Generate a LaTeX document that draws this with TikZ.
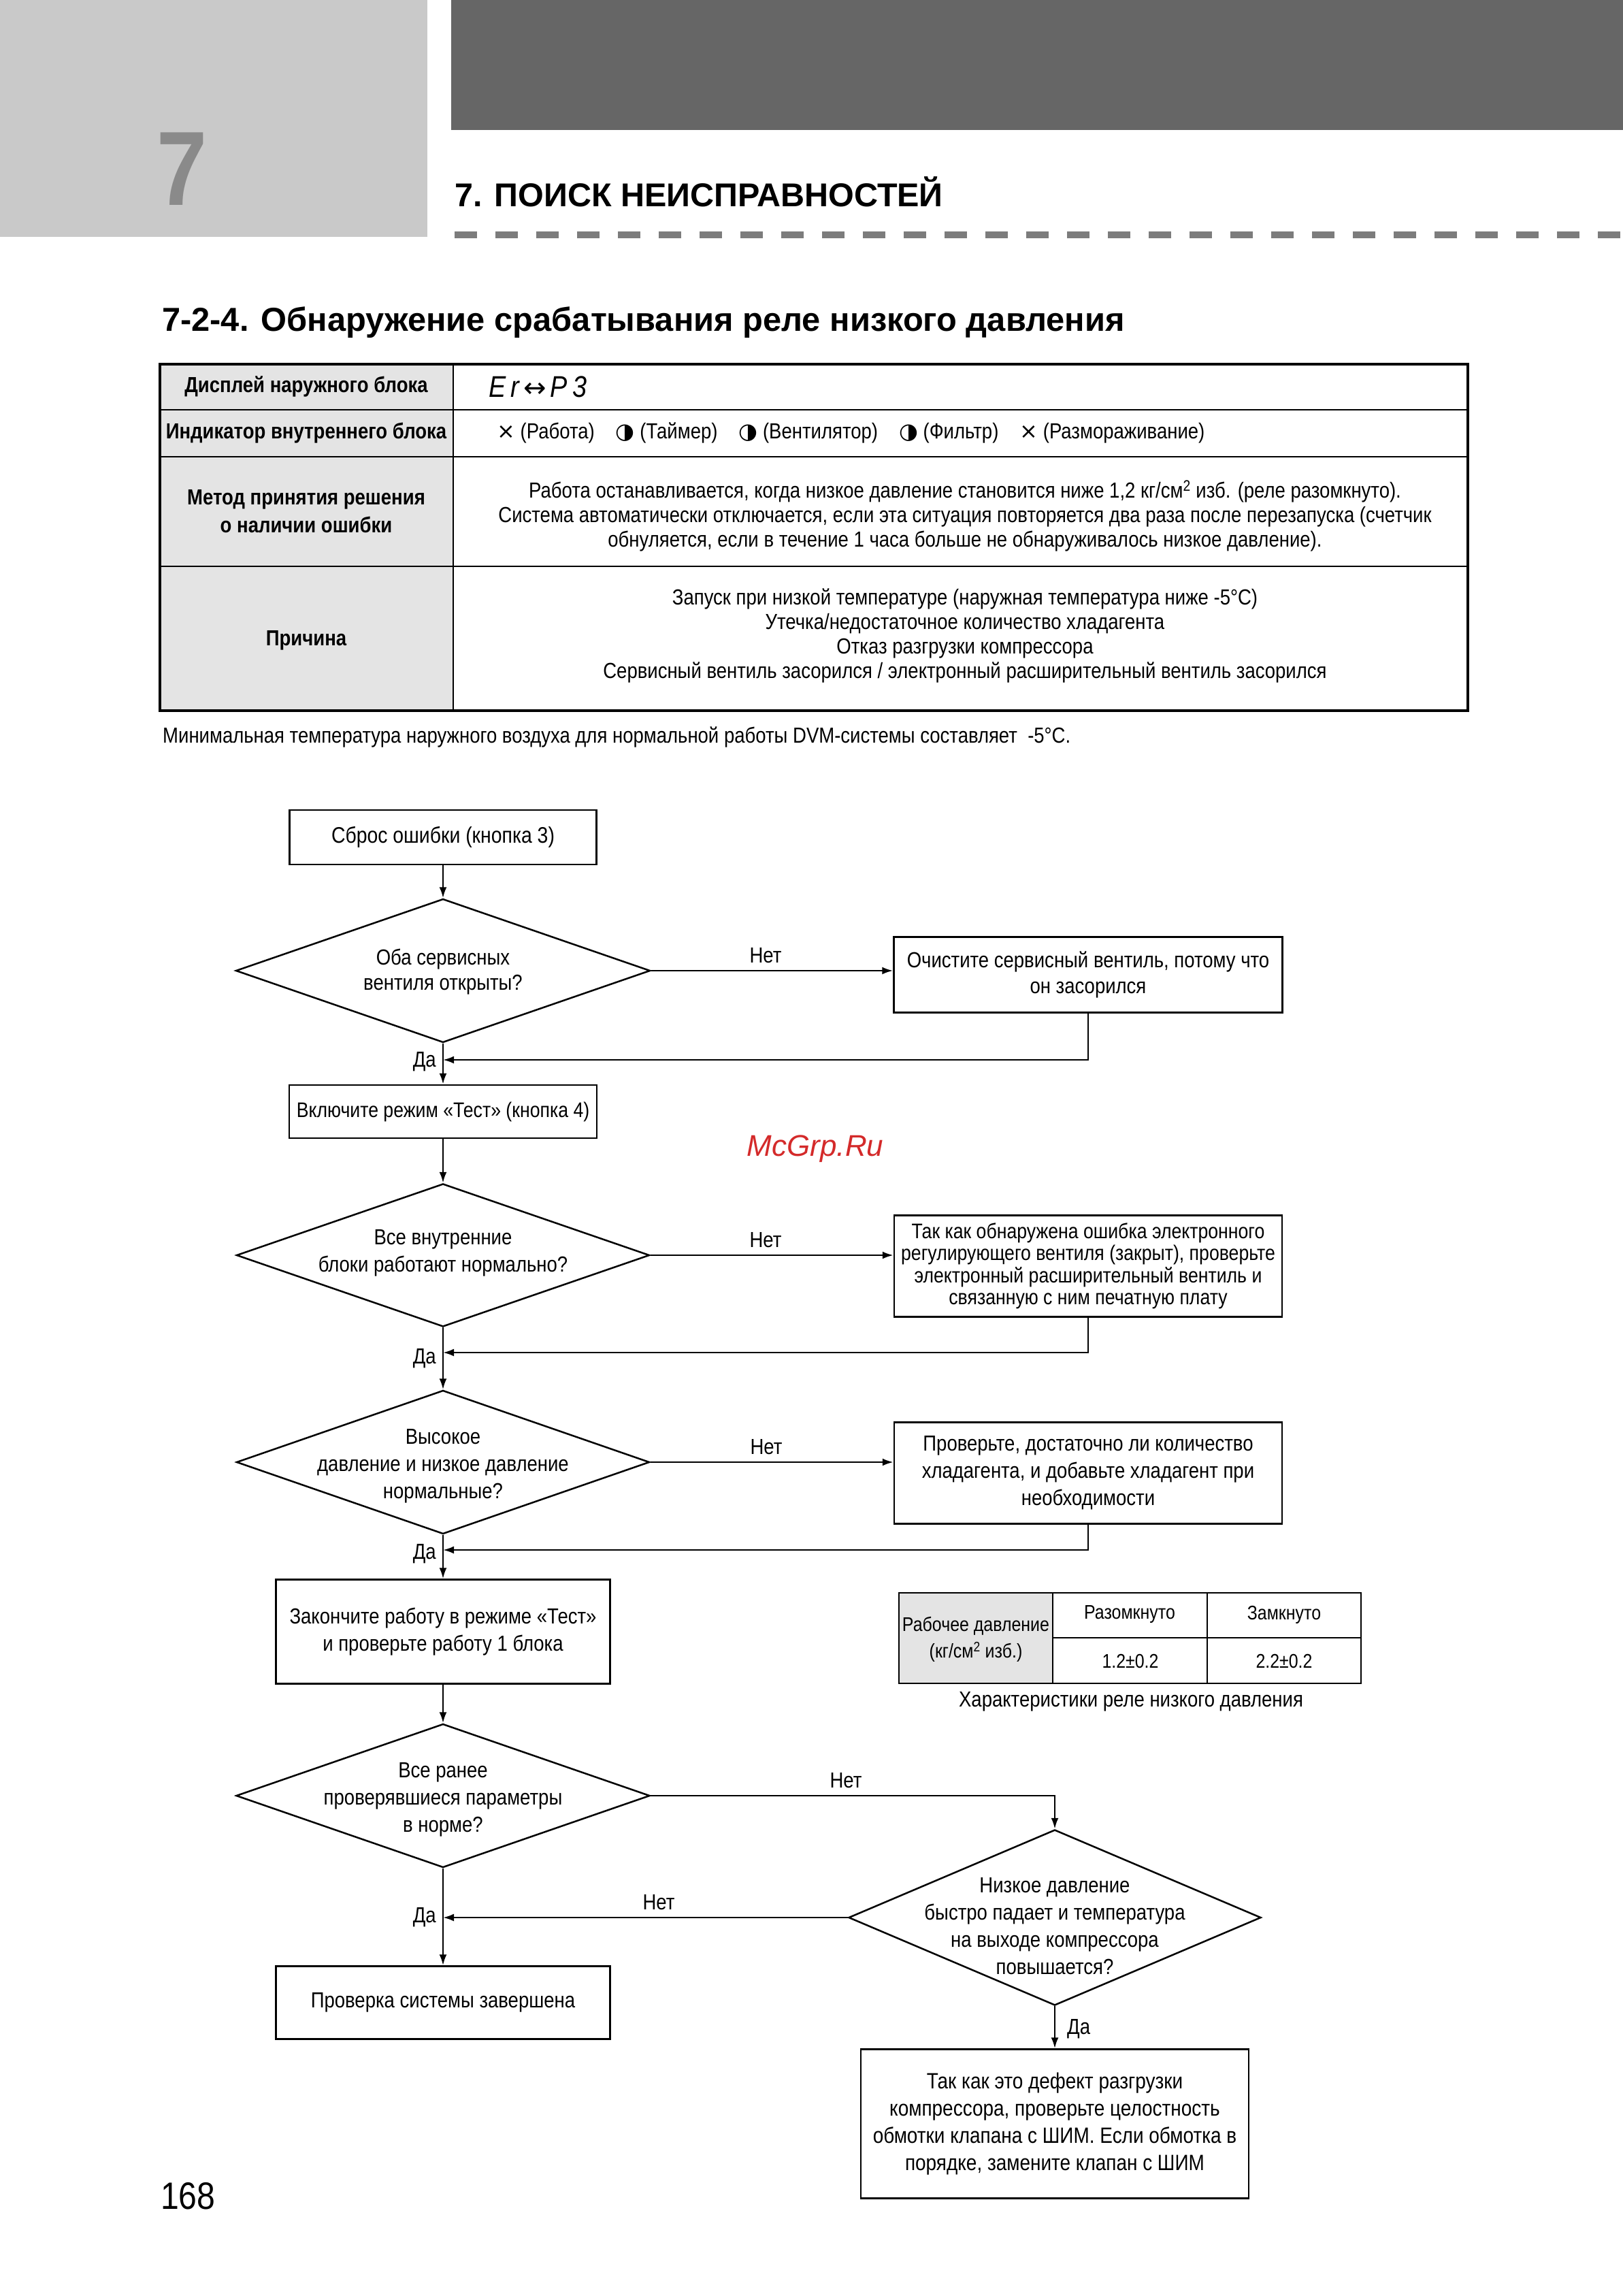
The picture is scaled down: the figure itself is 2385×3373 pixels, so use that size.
\documentclass[tikz,border=0pt]{standalone}
\usepackage{fontspec}
\setmainfont{Liberation Sans}[FakeStretch=0.86]
\newfontfamily\plainfont{Liberation Sans}
\newfontfamily\symfont{DejaVu Sans}
\usetikzlibrary{arrows.meta,shapes.geometric,calc}
\definecolor{lgray}{HTML}{C9C9C9}
\definecolor{dgray}{HTML}{666666}
\definecolor{sevgray}{HTML}{8A8A8A}
\definecolor{dashcol}{HTML}{7C7C7C}
\definecolor{tgray}{HTML}{E4E4E4}
\definecolor{wmred}{HTML}{D42A2A}
\tikzset{
  txt/.style={inner sep=0pt, align=center, font=\fontsize{32}{37}\selectfont},
  hdr/.style={inner sep=0pt, align=center, font=\bfseries\fontsize{32}{41}\selectfont},
  box/.style={draw, line width=2.5pt, inner sep=0pt, align=center, font=\fontsize{32}{38}\selectfont},
  dia/.style={draw, shape=diamond, line width=2.5pt, inner sep=0pt},
  lbl/.style={inner sep=0pt, font=\fontsize{32}{38}\selectfont},
  ln/.style={line width=2.5pt},
  arr/.style={line width=2.5pt, -{Latex[length=16pt,width=11pt]}},
}
\begin{document}
\begin{tikzpicture}[x=1pt,y=-1pt]
\useasboundingbox (0,0) rectangle (2385,3373);
\fill[white] (0,0) rectangle (2385,3373);
% header
\fill[lgray] (0,0) rectangle (628,348);
\fill[dgray] (663,0) rectangle (2385,191);
\node[inner sep=0pt, text=sevgray, font=\bfseries\fontsize{155}{155}\selectfont] (seven) at (268,248) {7};
\node[anchor=west, inner sep=0pt, font=\plainfont\bfseries\fontsize{48.5}{52}\selectfont] (chap) at (668,282) {7. ПОИСК НЕИСПРАВНОСТЕЙ};
\draw[dashcol, line width=10pt, dash pattern=on 33pt off 27pt] (668,345) -- (2385,345);
\node[anchor=west, inner sep=0pt, font=\plainfont\bfseries\fontsize{48.8}{52}\selectfont] (head) at (238,474) {7-2-4. Обнаружение срабатывания реле низкого давления};
% table
\fill[tgray] (235,535) rectangle (666,1044);
\draw[line width=2.5pt] (235,602) -- (2157,602);
\draw[line width=2.5pt] (235,671) -- (2157,671);
\draw[line width=2.5pt] (235,832) -- (2157,832);
\draw[line width=2pt] (666,535) -- (666,1044);
\draw[line width=3.5pt] (235,535) rectangle (2157,1044);
\node[hdr] (h1) at (450,568) {Дисплей наружного блока};
\node[hdr] (h2) at (450,636) {Индикатор внутреннего блока};
\node[hdr] (h3) at (450,751) {Метод принятия решения\\о наличии ошибки};
\node[hdr] (h4) at (450,941) {Причина};
\node[anchor=west, inner sep=0pt, font=\itshape\fontsize{44}{46}\selectfont] (c1) at (718,568) {E\,r\hspace{6pt}{\symfont\upshape\fontsize{40}{40}\selectfont ↔}\hspace{6pt}P\,3};
\node[anchor=west, txt] (c2) at (730,636) {{\symfont ×} (Работа)\hspace{31pt}{\symfont ◑} (Таймер)\hspace{31pt}{\symfont ◑} (Вентилятор)\hspace{31pt}{\symfont ◑} (Фильтр)\hspace{31pt}{\symfont ×} (Размораживание)};
\node[txt, font=\fontsize{32}{36}\selectfont] (c3) at (1418,758) {Работа останавливается, когда низкое давление становится ниже 1,2 кг/см\textsuperscript{2} изб. (реле разомкнуто).\\Система автоматически отключается, если эта ситуация повторяется два раза после перезапуска (счетчик\\обнуляется, если в течение 1 часа больше не обнаруживалось низкое давление).};
\node[txt, font=\fontsize{32}{36}\selectfont] (c4) at (1418,934) {Запуск при низкой температуре (наружная температура ниже -5°C)\\Утечка/недостаточное количество хладагента\\Отказ разгрузки компрессора\\Сервисный вентиль засорился / электронный расширительный вентиль засорился};
\node[anchor=west, txt] (foot) at (239,1083) {Минимальная температура наружного воздуха для нормальной работы DVM-системы составляет\ \ -5°C.};
% flowchart
\node[box, minimum width=451pt, minimum height=80pt, font=\fontsize{33}{38}\selectfont] (b1) at (651,1230) {Сброс ошибки (кнопка 3)};
\node[dia, minimum width=609pt, minimum height=211pt] (d1) at (651,1426) {};
\node[txt] (d1t) at (651,1428) {Оба сервисных\\вентиля открыты?};
\node[box, minimum width=571pt, minimum height=111pt] (b2) at (1599,1432) {Очистите сервисный вентиль, потому что\\он засорился};
\node[box, minimum width=452pt, minimum height=78pt, font=\fontsize{31}{38}\selectfont] (b3) at (651,1633) {Включите режим «Тест» (кнопка 4)};
\node[dia, minimum width=607pt, minimum height=210pt] (d2) at (651,1844) {};
\node[txt, font=\fontsize{32}{40}\selectfont] (d2t) at (651,1841) {Все внутренние\\блоки работают нормально?};
\node[box, minimum width=570pt, minimum height=149pt, font=\fontsize{31}{32.5}\selectfont] (b4) at (1599,1860) {Так как обнаружена ошибка электронного\\регулирующего вентиля (закрыт), проверьте\\электронный расширительный вентиль и\\связанную с ним печатную плату};
\node[dia, minimum width=607pt, minimum height=211pt] (d3) at (651,2148) {};
\node[txt, font=\fontsize{32}{40}\selectfont] (d3t) at (651,2154) {Высокое\\давление и низкое давление\\нормальные?};
\node[box, minimum width=570pt, minimum height=149pt, font=\fontsize{32}{40}\selectfont] (b5) at (1599,2164) {Проверьте, достаточно ли количество\\хладагента, и добавьте хладагент при\\необходимости};
\node[box, minimum width=491pt, minimum height=153pt, font=\fontsize{32}{40}\selectfont] (b6) at (651,2397) {Закончите работу в режиме «Тест»\\и проверьте работу 1 блока};
\node[dia, minimum width=608pt, minimum height=211pt] (d4) at (651,2638) {};
\node[txt, font=\fontsize{32}{40}\selectfont] (d4t) at (651,2644) {Все ранее\\проверявшиеся параметры\\в норме?};
\node[dia, minimum width=606pt, minimum height=258pt] (d5) at (1550,2817) {};
\node[txt, font=\fontsize{32}{40}\selectfont] (d5t) at (1550,2830) {Низкое давление\\быстро падает и температура\\на выходе компрессора\\повышается?};
\node[box, minimum width=491pt, minimum height=107pt] (b7) at (651,2942) {Проверка системы завершена};
\node[box, minimum width=570pt, minimum height=219pt, font=\fontsize{32.5}{40}\selectfont] (b8) at (1550,3120) {Так как это дефект разгрузки\\компрессора, проверьте целостность\\обмотки клапана с ШИМ. Если обмотка в\\порядке, замените клапан с ШИМ};
% return points on main line
\coordinate (m1) at (651,1557);
\coordinate (m2) at (651,1987);
\coordinate (m3) at (651,2277);
\coordinate (m4) at (651,2810);
% connectors
\draw[arr] (b1) -- (d1);
\draw[arr] (d1.east) -- (d1.east -| b2.west);
\draw[arr] (b2.south) |- (m1);
\draw[arr] (d1.south) -- (b3.north);
\draw[arr] (b3.south) -- (d2.north);
\draw[arr] (d2.east) -- (d2.east -| b4.west);
\draw[arr] (b4.south) |- (m2);
\draw[arr] (d2.south) -- (d3.north);
\draw[arr] (d3.east) -- (d3.east -| b5.west);
\draw[arr] (b5.south) |- (m3);
\draw[arr] (d3.south) -- (b6.north);
\draw[arr] (b6.south) -- (d4.north);
\draw[arr] (d4.east) -| (d5.north);
\draw[arr] (d5.west) -- (m4 |- d5.west);
\draw[arr] (d4.south) -- (b7.north);
\draw[arr] (d5.south) -- (b8.north);
% labels
\node[lbl] (n1) at (1125,1404) {Нет};
\node[lbl] (n2) at (1125,1822) {Нет};
\node[lbl] (n3) at (1126,2126) {Нет};
\node[lbl] (n4) at (1243,2616) {Нет};
\node[lbl] (n5) at (968,2795) {Нет};
\node[lbl, anchor=east] (y1) at (641,1560) {Да};
\node[lbl, anchor=east] (y2) at (641,1996) {Да};
\node[lbl, anchor=east] (y3) at (641,2283) {Да};
\node[lbl, anchor=east] (y4) at (641,2817) {Да};
\node[lbl, anchor=west] (y5) at (1568,2981) {Да};
% small table
\fill[tgray] (1321,2340) rectangle (1547,2473);
\draw[line width=2.5pt] (1547,2406) -- (2000,2406);
\draw[line width=2pt] (1547,2340) -- (1547,2473);
\draw[line width=2pt] (1774,2340) -- (1774,2473);
\draw[line width=2.5pt] (1321,2340) rectangle (2000,2473);
\node[txt, font=\fontsize{29}{39}\selectfont] (t1) at (1434,2408) {Рабочее давление\\(кг/см\textsuperscript{2} изб.)};
\node[txt, font=\fontsize{29}{35}\selectfont] (t2) at (1660,2372) {Разомкнуто};
\node[txt, font=\fontsize{29}{35}\selectfont] (t3) at (1887,2372) {Замкнуто};
\node[txt, font=\fontsize{29}{35}\selectfont] (t4) at (1661,2440) {1.2±0.2};
\node[txt, font=\fontsize{29}{35}\selectfont] (t5) at (1887,2440) {2.2±0.2};
\node[txt] (cap) at (1662,2500) {Характеристики реле низкого давления};
% watermark and page number
\node[inner sep=0pt, text=wmred, font=\plainfont\itshape\fontsize{44}{46}\selectfont] (wm) at (1198,1688) {McGrp.Ru};
\node[anchor=west, inner sep=0pt, font=\fontsize{56}{60}\selectfont] (pg) at (236,3226) {168};
\end{tikzpicture}
\end{document}
